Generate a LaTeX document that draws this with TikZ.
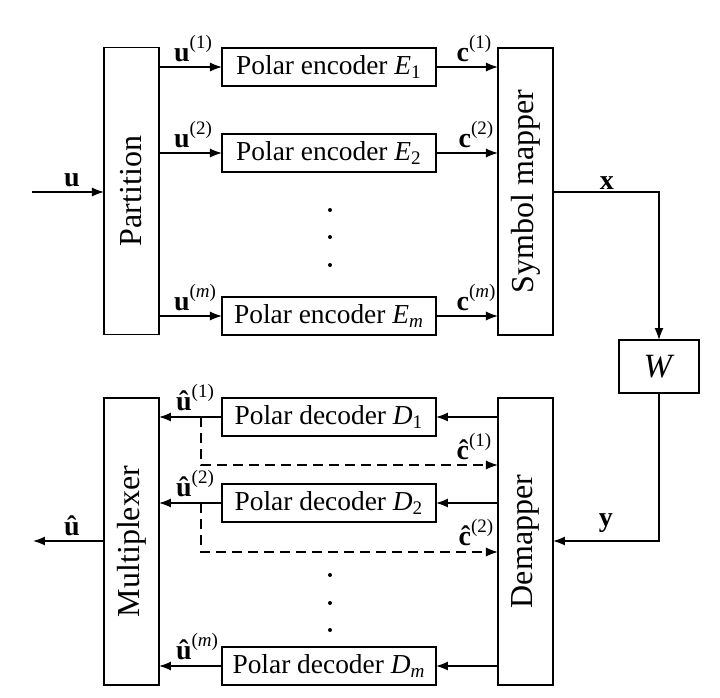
\documentclass[tikz,border=0pt]{standalone}
\usepackage{fontspec}
\setmainfont{Liberation Serif}
\usetikzlibrary{arrows.meta}
\newcommand{\supr}[1]{\raisebox{0.48em}{\fontsize{9.5}{11}\selectfont(#1)}}
\begin{document}
\begin{tikzpicture}[x=0.5pt,y=-0.5pt,
  every node/.style={inner sep=0pt,outer sep=0pt},
  blk/.style={draw,line width=0.8pt,rectangle,minimum width=27.5pt,minimum height=143.5pt},
  pbox/.style={draw,line width=0.8pt,rectangle,minimum width=107pt,minimum height=19pt,font=\fontsize{13.7}{16}\selectfont},
  wbox/.style={draw,line width=0.8pt,rectangle,minimum width=40pt,minimum height=26.5pt,font=\fontsize{17}{20}\selectfont},
  rlab/.style={rotate=90,font=\fontsize{16}{19}\selectfont},
  lab/.style={font=\fontsize{14}{17}\selectfont},
  arr/.style={line width=0.8pt,-{Latex[length=6pt,width=4.6pt]}},
  darr/.style={arr,dash pattern=on 5pt off 3pt},
  dotc/.style={fill=black}]
\useasboundingbox (0,0) rectangle (720,698);
% blocks
\node[blk] (P) at (131.5,191) {};
\node[rlab] at (P.center) {Partition};
\node[blk] (S) at (525.5,191.5) {};
\node[rlab] at (S.center) {Symbol mapper};
\node[blk] (M) at (131.5,541.5) {};
\node[rlab] at (M.center) {Multiplexer};
\node[blk] (Dm) at (525.5,541.5) {};
\node[rlab] at (Dm.center) {Demapper};
\node[wbox] (W) at (659,366.5) {\textit{W}};
% encoders
\node[pbox] (E1) at (329,67) {Polar encoder \textit{E}\textsubscript{1}};
\node[pbox] (E2) at (329,153) {Polar encoder \textit{E}\textsubscript{2}};
\node[pbox] (Em) at (329,316) {Polar encoder \textit{E}\textsubscript{\textit{m}}};
% decoders
\node[pbox] (D1) at (329,417) {Polar decoder \textit{D}\textsubscript{1}};
\node[pbox] (D2) at (329,503) {Polar decoder \textit{D}\textsubscript{2}};
\node[pbox] (Dmm) at (329,666) {Polar decoder \textit{D}\textsubscript{\textit{m}}};
% input
\coordinate (in) at (32,192);
\draw[arr] (in) -- (in -| P.west);
\node[lab] (lu) at (72,180) {\textbf{u}};
% partition -> encoders
\draw[arr] (P.east |- E1) -- (E1.west);
\draw[arr] (P.east |- E2) -- (E2.west);
\draw[arr] (P.east |- Em) -- (Em.west);
\node[lab,anchor=south] (lu1) at (193,62) {\textbf{u}\supr{1}};
\node[lab,anchor=south] (lu2) at (193,148) {\textbf{u}\supr{2}};
\node[lab,anchor=south] (lum) at (195,311) {\textbf{u}\supr{\textit{m}}};
% encoders -> mapper
\draw[arr] (E1.east) -- (E1 -| S.west);
\draw[arr] (E2.east) -- (E2 -| S.west);
\draw[arr] (Em.east) -- (Em -| S.west);
\node[lab,anchor=south] (lc1) at (474,62) {\textbf{c}\supr{1}};
\node[lab,anchor=south] (lc2) at (476,148) {\textbf{c}\supr{2}};
\node[lab,anchor=south] (lcm) at (476,311) {\textbf{c}\supr{\textit{m}}};
% mapper -> W
\coordinate (xc) at (659,192);
\draw[arr] (S.east |- xc) -- (xc) -- (W.north);
\node[lab] (lx) at (607,183) {\textbf{x}};
% W -> demapper
\coordinate (yc) at (659,541);
\draw[arr] (W.south) -- (yc) -- (yc -| Dm.east);
\node[lab] (ly) at (606,523) {\textbf{y}};
% demapper -> decoders
\draw[arr] (Dm.west |- D1) -- (D1.east);
\draw[arr] (Dm.west |- D2) -- (D2.east);
\draw[arr] (Dm.west |- Dmm) -- (Dmm.east);
% decoders -> multiplexer
\draw[arr] (D1.west) -- (D1 -| M.east);
\draw[arr] (D2.west) -- (D2 -| M.east);
\draw[arr] (Dmm.west) -- (Dmm -| M.east);
\node[lab,anchor=south] (lh1) at (195,411) {\textbf{\^u}\supr{1}};
\node[lab,anchor=south] (lh2) at (195,497) {\textbf{\^u}\supr{2}};
\node[lab,anchor=south] (lhm) at (197,660) {\textbf{\^u}\supr{\textit{m}}};
% dashed feedback
\coordinate (t1) at (201,417);
\coordinate (b1) at (201,465);
\coordinate (t2) at (201,503);
\coordinate (b2) at (201,552);
\draw[darr] (t1) -- (b1) -- (b1 -| Dm.west);
\draw[darr] (t2) -- (b2) -- (b2 -| Dm.west);
\node[lab,anchor=south] (lch1) at (474,460) {\textbf{\^c}\supr{1}};
\node[lab,anchor=south] (lch2) at (476,546) {\textbf{\^c}\supr{2}};
% output
\coordinate (out) at (33,541);
\draw[arr] (M.west |- out) -- (out);
\node[lab] (luh) at (72,526) {\textbf{\^u}};
% dots
\foreach \yy in {210,237,265,575,603,630} \fill[dotc] (330,\yy) circle (2);
\end{tikzpicture}
\end{document}
